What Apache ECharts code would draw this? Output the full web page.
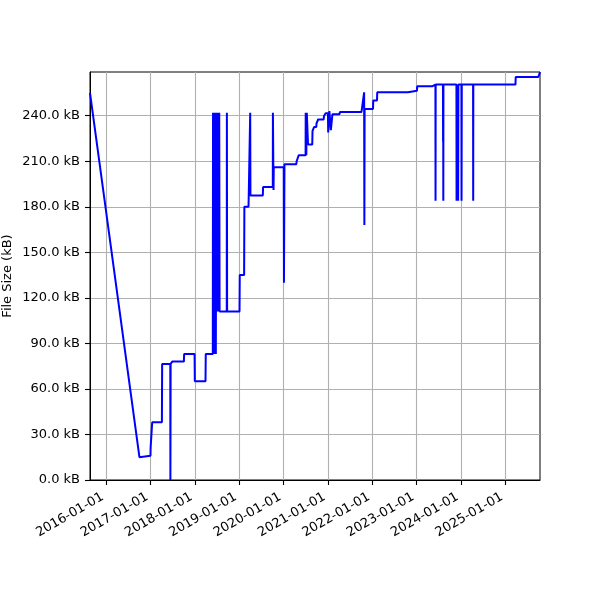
<!DOCTYPE html>
<html>
<head>
<meta charset="utf-8">
<script src="https://cdn.jsdelivr.net/npm/echarts@6/dist/echarts.min.js"></script>
<style>
html, body { margin: 0; background: #fff; }
#ech { width: 600px; height: 600px; }
</style>
</head>
<body>
<div id="ech"></div>
<script>
// file size history (kB)
var dates = [
    '2015-08-21', '2016-10-01', '2016-10-15', '2016-10-17', '2016-12-31', '2017-01-01',
    '2017-01-12', '2017-01-14', '2017-04-04', '2017-04-06', '2017-06-12', '2017-06-13',
    '2017-06-15', '2017-06-26', '2017-06-28', '2017-10-02', '2017-10-04', '2017-12-29',
    '2017-12-31', '2018-03-29', '2018-03-31', '2018-05-28', '2018-05-30', '2018-06-05',
    '2018-06-08', '2018-06-13', '2018-06-17', '2018-06-22', '2018-06-26', '2018-06-30',
    '2018-07-04', '2018-07-08', '2018-07-12', '2018-07-16', '2018-07-20', '2018-07-23',
    '2018-09-20', '2018-09-21', '2018-09-23', '2019-01-03', '2019-01-05', '2019-02-10',
    '2019-02-12', '2019-03-18', '2019-03-20', '2019-03-31', '2019-04-01', '2019-04-03',
    '2019-07-14', '2019-07-16', '2019-10-04', '2019-10-05', '2019-10-10', '2019-10-12',
    '2020-01-02', '2020-01-04', '2020-01-08', '2020-04-15', '2020-04-17', '2020-05-03',
    '2020-05-05', '2020-06-30', '2020-07-01', '2020-07-06', '2020-07-10', '2020-07-18',
    '2020-07-20', '2020-08-24', '2020-08-26', '2020-09-06', '2020-09-08', '2020-09-26',
    '2020-09-28', '2020-10-09', '2020-10-11', '2020-11-26', '2020-11-28', '2020-12-10',
    '2020-12-12', '2020-12-31', '2021-01-02', '2021-01-10', '2021-01-12', '2021-01-20',
    '2021-01-24', '2021-02-04', '2021-02-06', '2021-04-06', '2021-04-08', '2021-10-03',
    '2021-10-25', '2021-10-27', '2021-10-29', '2022-01-06', '2022-01-08', '2022-02-08',
    '2022-02-10', '2022-10-21', '2022-10-23', '2023-01-03', '2023-01-05', '2023-05-08',
    '2023-05-10', '2023-06-04', '2023-06-05', '2023-06-06', '2023-08-05', '2023-08-06',
    '2023-08-07', '2023-08-08', '2023-08-09', '2023-11-24', '2023-11-25', '2023-11-27',
    '2023-12-07', '2023-12-08', '2023-12-10', '2024-01-04', '2024-01-05', '2024-01-07',
    '2024-04-09', '2024-04-10', '2024-04-11', '2025-03-24', '2025-03-26', '2025-09-28',
    '2025-10-12'
];
var sizes = [
    255, 15, 15, 16, 16, 21,
    21, 38, 38, 76.5, 76.5, 0,
    76.5, 76.5, 78, 78, 83, 83,
    65, 65, 83, 83, 242, 83,
    242, 83, 242, 83, 242, 111,
    242, 111, 242, 111, 242, 111,
    111, 242, 111, 111, 135, 135,
    180, 180, 187.5, 187.5, 242, 187.5,
    187.5, 193, 193, 242, 191, 206,
    206, 130, 208, 208, 210, 210,
    214, 214, 242, 214, 242, 242,
    221, 221, 230, 230, 232.5, 232.5,
    235, 235, 237.5, 237.5, 239.6, 239.6,
    241.7, 241.7, 229, 229, 243, 243,
    230.5, 230.5, 241, 241, 242.4, 242.4,
    255.4, 168, 244.4, 244.4, 250, 250,
    255.4, 255.4, 256.5, 256.5, 259.4, 259.4,
    260.5, 260.5, 184, 260.5, 260.5, 223,
    260.5, 184, 260.5, 260.5, 184, 260.5,
    260.5, 184, 260.5, 260.5, 184, 260.5,
    260.5, 184, 260.5, 260.5, 265.5, 265.5,
    268.8
];
var yTicks = [0, 30, 60, 90, 120, 150, 180, 210, 240];
var xTickYears = [2016, 2017, 2018, 2019, 2020, 2021, 2022, 2023, 2024, 2025];

function toTime(s) {
    var p = s.split('-');
    return new Date(+p[0], +p[1] - 1, +p[2]).getTime();
}
function pad(n) {
    return n < 10 ? '0' + n : '' + n;
}

var points = dates.map(function (d, i) {
    return [toTime(d), sizes[i]];
});
var xTicks = xTickYears.map(function (y) {
    return new Date(y, 0, 1).getTime();
});

var font = 'DejaVu Sans';
var myChart = echarts.init(document.getElementById('ech'));
var option = {
    animation: false,
    backgroundColor: '#fff',
    grid: {
        left: 90, top: 72, width: 450, height: 408,
        outerBoundsMode: 'none',
        containLabel: false,
        show: true, borderColor: '#000', borderWidth: 1,
        backgroundColor: 'transparent'
    },
    xAxis: {
        type: 'value',
        min: points[0][0],
        max: points[points.length - 1][0],
        axisLine: {show: true, lineStyle: {color: '#000', width: 1}},
        axisTick: {show: true, length: 5, lineStyle: {color: '#000', width: 1.1}, customValues: xTicks},
        axisLabel: {
            customValues: xTicks,
            rotate: 30,
            margin: 14,
            padding: [0, 4, 0, 0],
            color: '#000',
            fontFamily: font,
            fontSize: 13,
            hideOverlap: false,
            formatter: function (v) {
                var d = new Date(v);
                return d.getFullYear() + '-' + pad(d.getMonth() + 1) + '-' + pad(d.getDate());
            }
        },
        splitLine: {show: true, lineStyle: {color: '#b0b0b0', width: 1.1}}
    },
    yAxis: {
        type: 'value',
        min: 0,
        max: Math.max.apply(null, sizes),
        name: 'File Size (kB)',
        nameLocation: 'middle',
        nameGap: 76,
        nameMoveOverlap: false,
        nameTextStyle: {color: '#000', fontFamily: font, fontSize: 13},
        axisLine: {show: true, lineStyle: {color: '#000', width: 1}},
        axisTick: {show: true, length: 5, lineStyle: {color: '#000', width: 1.1}, customValues: yTicks},
        axisLabel: {
            customValues: yTicks,
            margin: 10,
            color: '#000',
            fontFamily: font,
            fontSize: 13,
            formatter: function (v) {
                return v.toFixed(1) + ' kB';
            }
        },
        splitLine: {show: true, lineStyle: {color: '#b0b0b0', width: 1.1}}
    },
    series: [
        {
            type: 'line',
            data: points,
            symbol: 'none',
            showSymbol: false,
            clip: true,
            lineStyle: {color: '#0000ff', width: 2},
            itemStyle: {color: '#0000ff'}
        }
    ]
};
myChart.setOption(option);
</script>
</body>
</html>
